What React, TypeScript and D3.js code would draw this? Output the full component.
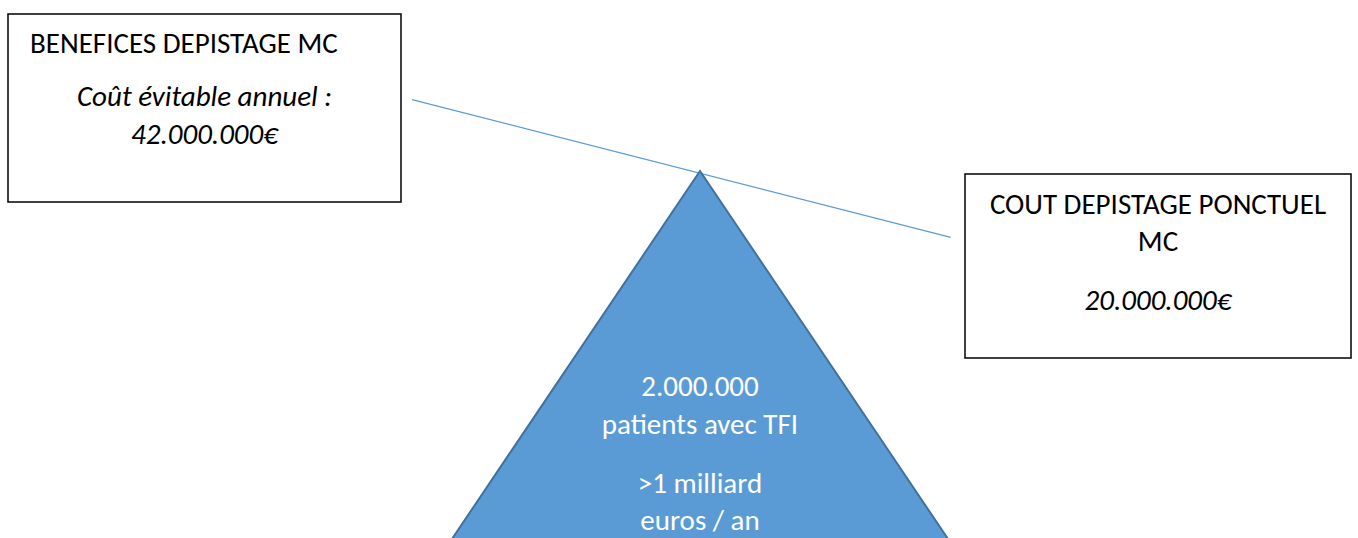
import React from 'react';
import * as d3 from 'd3';

// texte des trois blocs
const leftTitle = 'BENEFICES DEPISTAGE MC';
const leftLines = ['Coût évitable annuel :', '42.000.000€'];
const rightTitle = ['COUT DEPISTAGE PONCTUEL', 'MC'];
const rightValue = '20.000.000€';
const pivotLines = ['2.000.000', 'patients avec TFI'];
const pivotCost = ['>1 milliard', 'euros / an'];

const W = 1358;
const H = 538;
const FONT = 'Carlito, Calibri, Lato, "Open Sans", sans-serif';
const BLUE = '#5B9BD5';
const DARK_BLUE = '#41719C';

export default function App() {
  // the beam: a straight line resting on the apex of the pivot
  const beam = d3.line()([[412, 99.7], [950.7, 237.3]]);
  // the pivot triangle, base below the bottom of the picture
  const apex: [number, number] = [700, 171];
  const slope = 0.674;
  const baseY = 548;
  const half = (baseY - apex[1]) * slope;
  const triangle = d3.line()([
    apex,
    [apex[0] + half, baseY],
    [apex[0] - half, baseY],
  ]) + 'Z';

  const fs = 29;

  return (
    <svg
      width={W}
      height={H}
      style={{ position: 'absolute', left: 0, top: 0, background: '#fff' }}
      fontFamily={FONT}
    >
      <rect x={8} y={14} width={393} height={188} fill="#fff" stroke="#000" strokeWidth={1.5} />
      <text x={30} y={53} fontSize={fs} fill="#000">{leftTitle}</text>
      {leftLines.map((t, i) => (
        <text key={t} x={204.5} y={106 + i * 38} fontSize={fs} fontStyle="italic" textAnchor="middle" fill="#000">
          {t}
        </text>
      ))}

      <rect x={965} y={174} width={386} height={184} fill="#fff" stroke="#000" strokeWidth={1.5} />
      {rightTitle.map((t, i) => (
        <text key={t} x={1158} y={214 + i * 37} fontSize={fs} textAnchor="middle" fill="#000">
          {t}
        </text>
      ))}
      <text x={1158} y={310} fontSize={fs} fontStyle="italic" textAnchor="middle" fill="#000">
        {rightValue}
      </text>

      <path d={beam ?? ''} fill="none" stroke={BLUE} strokeWidth={1.2} />
      <path d={triangle} fill={BLUE} stroke={DARK_BLUE} strokeWidth={2} strokeLinejoin="miter" />

      {pivotLines.map((t, i) => (
        <text key={t} x={700} y={396 + i * 38} fontSize={fs} textAnchor="middle" fill="#fff">
          {t}
        </text>
      ))}
      {pivotCost.map((t, i) => (
        <text key={t} x={700} y={493 + i * 37} fontSize={fs} textAnchor="middle" fill="#fff">
          {t}
        </text>
      ))}
    </svg>
  );
}
